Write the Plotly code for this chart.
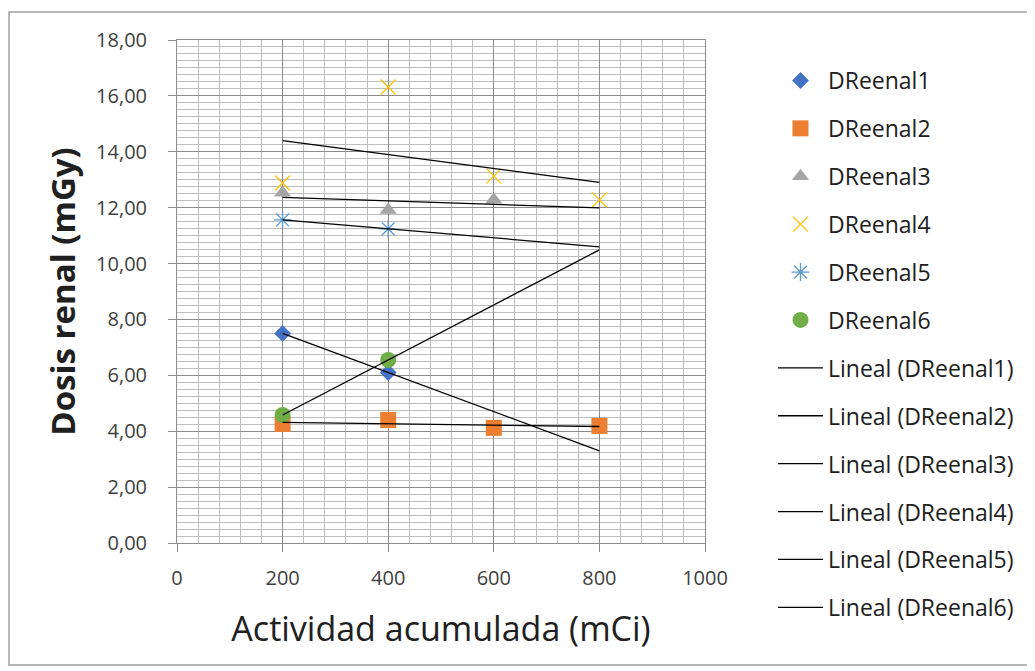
import numpy as np
import plotly.graph_objects as go

# ---- data ----
x_vals = [200, 400, 600, 800]
series_names = ["DReenal1", "DReenal2", "DReenal3", "DReenal4", "DReenal5", "DReenal6"]
dre1 = [7.50, 6.10]
dre2 = [4.26, 4.40, 4.12, 4.19]
dre3 = [12.53, 11.92, 12.28]
dre4 = [12.88, 16.32, 13.13, 12.28]
dre5 = [11.56, 11.24]
dre6 = [4.58, 6.55]
trend_range = [200, 800]   # trendlines forecast to 800

series_values = [dre1, dre2, dre3, dre4, dre5, dre6]
colors = ["#4472C4", "#ED7D31", "#A5A5A5", "#FFC000", "#5B9BD5", "#70AD47"]
symbols = ["diamond", "square", "triangle-up", "x-thin-open", "asterisk-open", "circle"]
sizes = [13, 16, 15, 15, 15, 16]

FONT = "Open Sans"
fig = go.Figure()

for name, vals, c, s, sz in zip(series_names, series_values, colors, symbols, sizes):
    xs = x_vals[:len(vals)]
    mk = dict(color=c, symbol=s, size=sz)
    if "open" in s:
        mk["line"] = dict(color=c, width=1.3)
    fig.add_trace(go.Scatter(x=xs, y=vals, mode="markers", name=name, marker=mk,
                             legendgroup=name))

for name, vals in zip(series_names, series_values):
    xs = x_vals[:len(vals)]
    m, b = np.polyfit(xs, vals, 1)
    tx = np.array(trend_range, dtype=float)
    fig.add_trace(go.Scatter(x=tx, y=m * tx + b, mode="lines", name=f"Lineal ({name})",
                             line=dict(color="black", width=1.3), legendgroup="L" + name))

# page body has an 8px margin; figure sized to fit window
OFF = 8
W, H = 1035 - OFF, 671 - OFF
L, T = 177 - OFF, 40 - OFF
R = W - (705 - OFF)
B = H - (543 - OFF)
pw, ph = W - L - R, H - T - B

def px_x(p):
    return (p - OFF - L) / pw

def px_y(p):
    return (H - B - (p - OFF)) / ph

fig.add_shape(type="rect", xref="paper", yref="paper",
              x0=px_x(OFF + 1), x1=px_x(1030), y0=px_y(665), y1=px_y(12),
              line=dict(color="#A0A0A0", width=1.5), fillcolor="rgba(0,0,0,0)", layer="below")

fig.update_layout(
    width=W, height=H,
    margin=dict(l=L, r=R, t=T, b=B, autoexpand=False),
    paper_bgcolor="white", plot_bgcolor="white",
    separators=",.",
    font=dict(family=FONT, color="#404040", size=20),
    legend=dict(x=px_x(773), y=1 - (59 - OFF) / H, xref="paper", yref="container",
                xanchor="left", yanchor="top",
                font=dict(family=FONT, size=23, color="#202020"),
                tracegroupgap=15, itemwidth=45, bgcolor="rgba(0,0,0,0)",
                maxheight=650),
    showlegend=True,
)

fig.update_xaxes(range=[0, 1000], dtick=200, tickformat="d",
                 showgrid=True, gridcolor="#8C8C8C", gridwidth=1,
                 minor=dict(dtick=40, showgrid=True, gridcolor="#BDBDBD", gridwidth=1),
                 showline=True, linecolor="#8C8C8C", mirror=True,
                 ticks="outside", ticklen=8, tickcolor="#8C8C8C",
                 zeroline=False, ticklabelstandoff=9,
                 tickfont=dict(family=FONT, size=20, color="#404040"),
                 title=dict(text="Actividad acumulada (mCi)", standoff=27,
                            font=dict(family=FONT, size=34, color="#202020")))
fig.update_yaxes(range=[0, 18], dtick=2, tickformat=".2f",
                 showgrid=True, gridcolor="#8C8C8C", gridwidth=1,
                 minor=dict(dtick=0.25, showgrid=True, gridcolor="#BDBDBD", gridwidth=1),
                 showline=True, linecolor="#8C8C8C", mirror=True,
                 ticks="outside", ticklen=8, tickcolor="#8C8C8C",
                 zeroline=False, ticklabelstandoff=17,
                 tickfont=dict(family=FONT, size=20, color="#404040"),
                 title=dict(text="<b>Dosis renal (mGy)</b>", standoff=10,
                            font=dict(family=FONT, size=33, color="#202020")))

fig.write_html("out.html")
